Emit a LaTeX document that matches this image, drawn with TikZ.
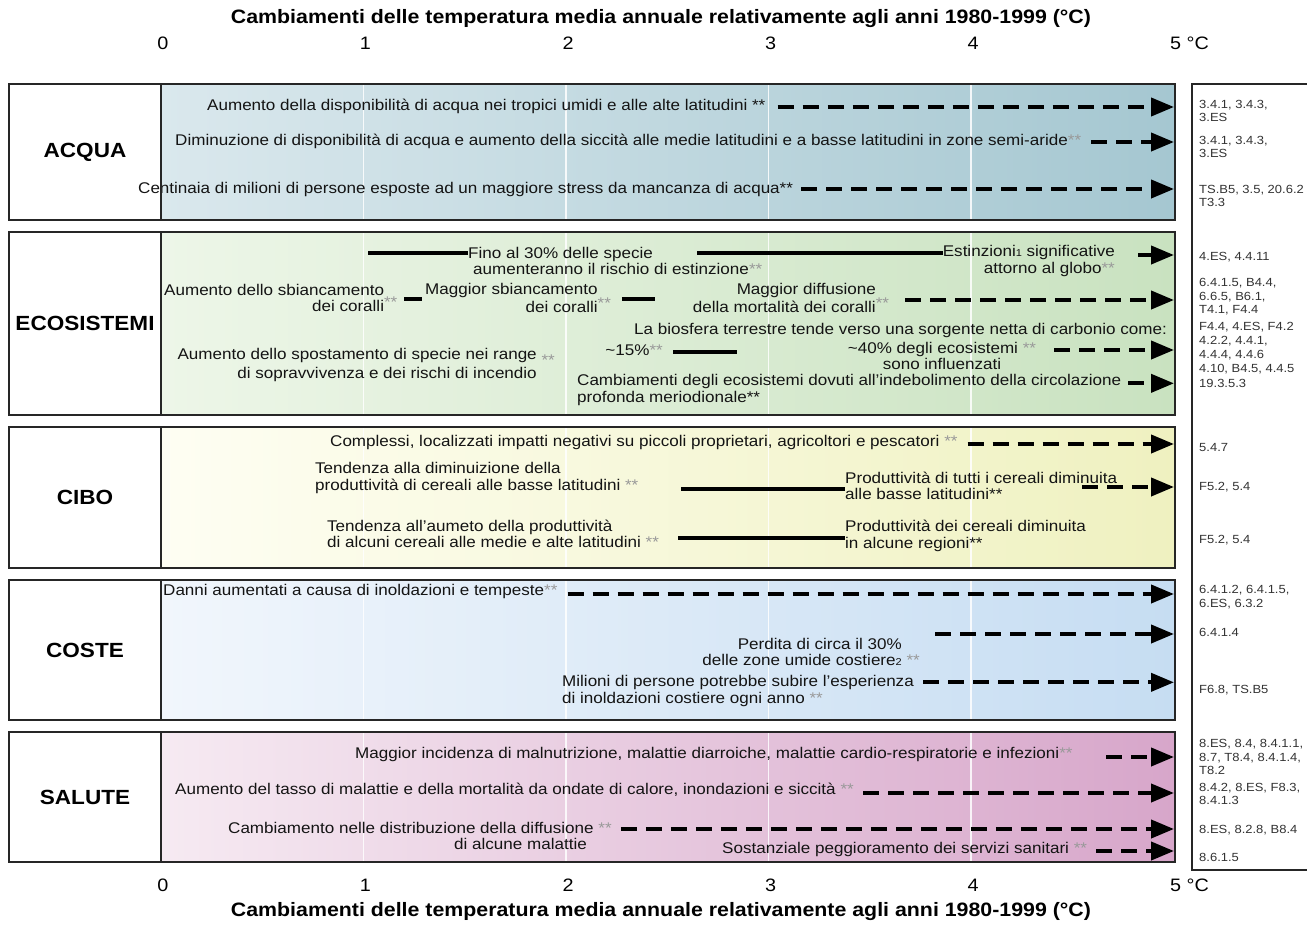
\documentclass[tikz,border=0pt]{standalone}
\usepackage{fontspec}
\setmainfont{Liberation Sans}[FakeStretch=1.1]
\usetikzlibrary{arrows.meta,calc}
\definecolor{aqL}{HTML}{DAE8ED}\definecolor{aqR}{HTML}{A5C7D1}
\definecolor{ecL}{HTML}{EDF6E8}\definecolor{ecR}{HTML}{C9E2C0}
\definecolor{ciL}{HTML}{FEFEF3}\definecolor{ciR}{HTML}{EFF1C0}
\definecolor{coL}{HTML}{F1F6FC}\definecolor{coR}{HTML}{C6DDF2}
\definecolor{saL}{HTML}{F6EAF2}\definecolor{saR}{HTML}{D7A6CA}
\newcommand\rowfont{\fontsize{15.5}{16.5}\selectfont}
\newcommand\labfont{\fontsize{20.5}{22}\selectfont\bfseries}
\newcommand\reffont{\fontsize{11.8}{13.6}\selectfont}
\newcommand\gst{\textcolor{black!40}{**}}
\newcommand\smalln[1]{{\fontsize{10}{10}\selectfont #1}}
\tikzset{
  panel/.style={draw=black!85, line width=1.6pt},
  txt/.style={inner sep=0pt, font=\rowfont, text=black!92},
  lab/.style={inner sep=0pt, font=\labfont},
  tick/.style={inner sep=0pt, font=\fontsize{18}{20}\selectfont},
  ttl/.style={inner sep=0pt, font=\fontsize{19.4}{21}\selectfont\bfseries},
  ref/.style={inner sep=0pt, font=\reffont, text=black!80, align=left, anchor=west},
  dasharr/.style={line width=4pt, dash pattern=on 16pt off 9pt, -{Triangle[length=23pt,width=18pt]}},
  solidarr/.style={line width=4pt, -{Triangle[length=23pt,width=18pt]}},
  bar/.style={line width=4pt},
  gridl/.style={white, line width=1.3pt, opacity=.85},
}
\begin{document}
\begin{tikzpicture}[x=1pt,y=-1pt]
\useasboundingbox (0,0) rectangle (1307,934);
\fill[white] (0,0) rectangle (1307,934);
\coordinate (R) at (1174,0);
% panel backgrounds
\shade[left color=aqL, right color=aqR] (161,84) rectangle (1175,220);
\shade[left color=ecL, right color=ecR] (161,232) rectangle (1175,415);
\shade[left color=ciL, right color=ciR] (161,427) rectangle (1175,568);
\shade[left color=coL, right color=coR] (161,580) rectangle (1175,720);
\shade[left color=saL, right color=saR] (161,732) rectangle (1175,862);
\foreach \t in {1,2,3,4}{
  \foreach \a/\b in {84/220,232/415,427/568,580/720,732/862}{
    \draw[gridl] ({161+202.5*\t},\a) -- ({161+202.5*\t},\b);
  }
}
% titles and ticks
\node[ttl] (ttop) at (661,19) {Cambiamenti delle temperatura media annuale relativamente agli anni 1980-1999 (°C)};
\node[ttl] (tbot) at (661,912) {Cambiamenti delle temperatura media annuale relativamente agli anni 1980-1999 (°C)};
\foreach \t in {0,1,2,3,4}{
  \node[tick] (tt\t) at ({163+202.5*\t},43) {\t};
  \node[tick] (tb\t) at ({163+202.5*\t},885) {\t};
}
\node[tick,anchor=west] (tt5) at (1170,43) {5 °C};
\node[tick,anchor=west] (tb5) at (1170,885) {5 °C};
% category labels
\node[lab] (lacq) at (85,152) {ACQUA};
\node[lab] (leco) at (85,323) {ECOSISTEMI};
\node[lab] (lcib) at (85,497) {CIBO};
\node[lab] (lcos) at (85,650) {COSTE};
\node[lab] (lsal) at (85,797) {SALUTE};
% ACQUA
\node[txt,anchor=west] (a1) at (207,106) {Aumento della disponibilità di acqua nei tropici umidi e alle alte latitudini **};
\draw[dasharr] ($(a1.east)+(12,1)$) -- ($(a1.east -| R)+(0,1)$);
\node[txt,anchor=west] (a2) at (175,141) {Diminuzione di disponibilità di acqua e aumento della siccità alle medie latitudini e a basse latitudini in zone semi-aride\gst};
\draw[dasharr] ($(a2.east)+(10,1)$) -- ($(a2.east -| R)+(0,1)$);
\node[txt,anchor=west] (a3) at (138,189) {Centinaia di milioni di persone esposte ad un maggiore stress da mancanza di acqua**};
\draw[dasharr] ($(a3.east)+(8,0)$) -- (a3.east -| R);
% ECOSISTEMI
\node[txt,anchor=west,align=left] (e1) at (468,261) {Fino al 30\% delle specie\\\hspace*{5pt}aumenteranno il rischio di estinzione\gst};
\coordinate (e1s) at (368,253);
\draw[bar] (e1s) -- (e1.west |- e1s);
\node[txt,anchor=east,align=right] (e2) at (1115,261) {Estinzioni\smalln{1} significative\\attorno al globo\gst};
\coordinate (e2b) at (697,253);
\draw[bar] (e2b) -- (e2.west |- e2b);
\coordinate (e2s) at (1138,255);
\draw[solidarr] (e2s) -- (e2s -| R);
\node[txt,anchor=west,align=right] (e3) at (164,298) {Aumento dello sbiancamento\\dei coralli\rlap{\raisebox{4pt}{\gst}}};
\draw[bar] ($(e3.east)+(20,1)$) -- ++(18,0);
\node[txt,anchor=west,align=right] (e4) at (425,298) {Maggior sbiancamento\\dei coralli\rlap{\raisebox{4pt}{\gst}}};
\draw[bar] ($(e4.east)+(24,1)$) -- ++(33,0);
\node[txt,anchor=east,align=right] (e5) at (876,298) {Maggior diffusione\\della mortalità dei coralli\rlap{\raisebox{4pt}{\gst}}};
\draw[dasharr] ($(e5.east)+(29,2)$) -- ($(e5.east -| R)+(0,2)$);
\node[txt,anchor=west] (e6) at (634,330) {La biosfera terrestre tende verso una sorgente netta di carbonio come:};
\node[txt,anchor=east] (e7) at (663,350) {\textasciitilde 15\%\gst};
\draw[bar] ($(e7.east)+(10,2)$) -- ++(64,0);
\node[txt,align=center] (e8) at (942,356) {\textasciitilde 40\% degli ecosistemi \gst\\sono influenzati};
\coordinate (e8s) at (1054,350);
\draw[dasharr] (e8s) -- (e8s -| R);
\node[txt,anchor=east,align=right] (e9) at (537,365) {Aumento dello spostamento di specie nei range\rlap{\raisebox{-6pt}{\ \gst}}\\di sopravvivenza e dei rischi di incendio};
\node[txt,anchor=west,align=left] (e10) at (577,390) {Cambiamenti degli ecosistemi dovuti all'indebolimento della circolazione\\profonda meriodionale**};
\coordinate (e10s) at ($(e10.north east)+(7,9)$);
\draw[dasharr] (e10s) -- (e10s -| R);
% CIBO
\node[txt,anchor=west] (c1) at (330,442) {Complessi, localizzati impatti negativi su piccoli proprietari, agricoltori e pescatori \gst};
\draw[dasharr] ($(c1.east)+(10,2)$) -- ($(c1.east -| R)+(0,2)$);
\node[txt,anchor=west,align=left] (c2) at (315,478) {Tendenza alla diminuizione della\\produttività di cereali alle basse latitudini \gst};
\node[txt,anchor=west,align=left] (c3) at (845,486) {Produttività di tutti i cereali diminuita\\alle basse latitudini**};
\coordinate (c2s) at (681,489);
\draw[bar] (c2s) -- (c3.west |- c2s);
\coordinate (c3s) at (1082,487);
\draw[dasharr] (c3s) -- (c3s -| R);
\node[txt,anchor=west,align=left] (c4) at (327,534) {Tendenza all'aumeto della produttività\\di alcuni cereali alle medie e alte latitudini \gst};
\node[txt,anchor=west,align=left] (c5) at (845,536) {Produttività dei cereali diminuita\\in alcune regioni**};
\coordinate (c4s) at (678,538);
\draw[bar] (c4s) -- (c5.west |- c4s);
% COSTE
\node[txt,anchor=west] (k1) at (163,591) {Danni aumentati a causa di inoldazioni e tempeste\gst};
\draw[dasharr] ($(k1.east)+(10,3)$) -- ($(k1.east -| R)+(0,3)$);
\node[txt,anchor=east,align=right] (k2) at (902,652) {Perdita di circa il 30\%\\delle zone umide costiere\smalln{2}\rlap{\ \gst}};
\coordinate (k2s) at (935,634);
\draw[dasharr] (k2s) -- (k2s -| R);
\node[txt,anchor=west,align=left] (k3) at (562,691) {Milioni di persone potrebbe subire l'esperienza\\di inoldazioni costiere ogni anno \gst};
\coordinate (k3s) at ($(k3.north east)+(9,7)$);
\draw[dasharr] (k3s) -- (k3s -| R);
% SALUTE
\node[txt,anchor=west] (s1) at (355,754) {Maggior incidenza di malnutrizione, malattie diarroiche, malattie cardio-respiratorie e infezioni\gst};
\coordinate (s1s) at (1106,757);
\draw[dasharr] (s1s) -- (s1s -| R);
\node[txt,anchor=west] (s2) at (175,790) {Aumento del tasso di malattie e della mortalità da ondate di calore, inondazioni e siccità \gst};
\draw[dasharr] ($(s2.east)+(9,3)$) -- ($(s2.east -| R)+(0,3)$);
\node[txt,anchor=west] (s3) at (228,828) {Cambiamento nelle distribuzione della diffusione \gst};
\node[txt,anchor=east] (s3b) at (587,844) {di alcune malattie};
\draw[dasharr] ($(s3.east)+(9,1)$) -- ($(s3.east -| R)+(0,1)$);
\node[txt,anchor=west] (s4) at (722,849) {Sostanziale peggioramento dei servizi sanitari \gst};
\draw[dasharr] ($(s4.east)+(9,2)$) -- ($(s4.east -| R)+(0,2)$);
% references
\node[ref] (r1) at (1199,111) {3.4.1, 3.4.3,\\3.ES};
\node[ref] (r2) at (1199,147) {3.4.1, 3.4.3,\\3.ES};
\node[ref] (r3) at (1199,196) {TS.B5, 3.5, 20.6.2\\T3.3};
\node[ref] (r4) at (1199,257) {4.ES, 4.4.11};
\node[ref] (r5) at (1199,297) {6.4.1.5, B4.4,\\6.6.5, B6.1,\\T4.1, F4.4};
\node[ref] (r6) at (1199,327) {F4.4, 4.ES, F4.2};
\node[ref] (r7) at (1199,348) {4.2.2, 4.4.1,\\4.4.4, 4.4.6};
\node[ref] (r8) at (1199,369) {4.10, B4.5, 4.4.5};
\node[ref] (r9) at (1199,383) {19.3.5.3};
\node[ref] (r10) at (1199,447) {5.4.7};
\node[ref] (r11) at (1199,487) {F5.2, 5.4};
\node[ref] (r12) at (1199,540) {F5.2, 5.4};
\node[ref] (r13) at (1199,597) {6.4.1.2, 6.4.1.5,\\6.ES, 6.3.2};
\node[ref] (r14) at (1199,632) {6.4.1.4};
\node[ref] (r15) at (1199,690) {F6.8, TS.B5};
\node[ref] (r16) at (1199,757) {8.ES, 8.4, 8.4.1.1,\\8.7, T8.4, 8.4.1.4,\\T8.2};
\node[ref] (r17) at (1199,794) {8.4.2, 8.ES, F8.3,\\8.4.1.3};
\node[ref] (r18) at (1199,830) {8.ES, 8.2.8, B8.4};
\node[ref] (r19) at (1199,857) {8.6.1.5};
% borders
\foreach \a/\b in {84/220,232/415,427/568,580/720,732/862}{
  \draw[panel] (9,\a) rectangle (1175,\b);
  \draw[panel] (161,\a) -- (161,\b);
}
\draw[panel] (1192,84) rectangle (1330,870);
\end{tikzpicture}
\end{document}
